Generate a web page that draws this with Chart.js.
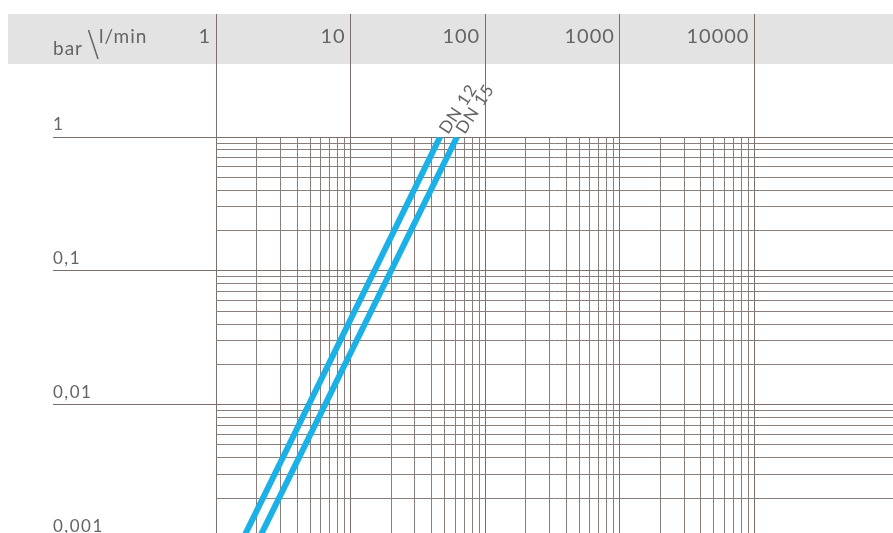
<!DOCTYPE html>
<html><head><meta charset="utf-8">
<script src="https://cdn.jsdelivr.net/npm/chart.js@4.4.1/dist/chart.umd.min.js"></script>
<style>html,body{margin:0;padding:0;background:#fff;} #wrap{width:893px;height:533px;position:relative;}</style>
</head><body><div id="wrap"><canvas id="c"></canvas></div>
<script>
// ---- data ----
const xMajorValues = [1, 10, 100, 1000, 10000];
const xTickLabels = ['1', '10', '100', '1000', '10000'];
const yMajorValues = [1, 0.1, 0.01, 0.001];
const yTickLabels = ['1', '0,1', '0,01', '0,001'];
const minorMultipliers = [2, 3, 4, 5, 6, 7, 8, 9];
const seriesNames = ['DN 12', 'DN 15'];
const dn12Flow = [46.2, 1.59];
const dn12Pressure = [1, 0.001];
const dn15Flow = [61.7, 2.09];
const dn15Pressure = [1, 0.001];
const xTitle = 'l/min';
const yTitle = 'bar';

// ---- config ----
const X_MIN = 1, X_MAX = 107000, X_GRID_MAX = 10000, Y_MIN = 0.0011, Y_MAX = 1;
const GRID = '#8a7e7a', GRID_MAJOR = '#7a6f6b', TEXT = '#646464', LINE = '#1bb0e6';

function gridValues(majors, min, max) {
  const out = [];
  majors.forEach(m => { out.push(m); minorMultipliers.forEach(k => out.push(m * k)); });
  return out.filter(v => v >= min * 0.9999 && v <= max * 1.0001).sort((a, b) => a - b);
}
const isMajor = (list, v) => list.some(m => Math.abs(m - v) / m < 1e-6);
const toPoints = (xs, ys) => xs.map((x, i) => ({x: x, y: ys[i]}));

const decor = {
  id: 'decor',
  beforeDraw(chart) {
    const c = chart.ctx;
    c.save();
    c.fillStyle = '#ffffff'; c.fillRect(0, 0, chart.width, chart.height);
    c.fillStyle = '#e3e3e3'; c.fillRect(8, 14, chart.width - 8, 50);
    c.restore();
  },
  afterDraw(chart) {
    const c = chart.ctx, xs = chart.scales.x, ys = chart.scales.y;
    c.save();
    c.fillStyle = TEXT;
    c.letterSpacing = '1px';
    c.font = '400 20px Lato';
    c.textAlign = 'right'; c.textBaseline = 'alphabetic';
    xMajorValues.forEach((v, i) => c.fillText(xTickLabels[i], xs.getPixelForValue(v) - 5, 43));
    c.font = '400 17px Lato'; c.textAlign = 'left';
    c.letterSpacing = '1.5px';
    yMajorValues.forEach((v, i) => c.fillText(yTickLabels[i], 53, ys.getPixelForValue(v) - 7));
    c.letterSpacing = '1px';
    c.font = '400 19px Lato';
    c.fillText(yTitle, 53, 55);
    c.fillText(xTitle, 99, 43);
    c.strokeStyle = TEXT; c.lineWidth = 1.5;
    c.beginPath(); c.moveTo(88.5, 30); c.lineTo(98, 59); c.stroke();
    // series labels
    c.font = '400 17px Lato';
    c.textBaseline = 'middle';
    const ang = -57 * Math.PI / 180;
    [dn12Flow, dn15Flow].forEach((flow, i) => {
      const px = xs.getPixelForValue(flow[0]), py = ys.getPixelForValue([dn12Pressure, dn15Pressure][i][0]);
      c.save();
      c.translate(px + 6 * Math.cos(ang), py + 6 * Math.sin(ang));
      c.rotate(ang);
      c.fillText(seriesNames[i], 0, 0);
      c.restore();
    });
    c.restore();
  }
};

new Chart(document.getElementById('c'), {
  type: 'line',
  data: {
    datasets: [
      {label: seriesNames[0], data: toPoints(dn12Flow, dn12Pressure)},
      {label: seriesNames[1], data: toPoints(dn15Flow, dn15Pressure)}
    ].map(d => Object.assign(d, {borderColor: LINE, borderWidth: 6, pointRadius: 0, fill: false, tension: 0, clip: 0, borderCapStyle: 'butt'}))
  },
  options: {
    responsive: true, maintainAspectRatio: false, animation: false,
    layout: {padding: 0},
    plugins: {legend: {display: false}, tooltip: {enabled: false}},
    scales: {
      x: {
        type: 'logarithmic', position: 'top', min: X_MIN, max: X_MAX,
        afterBuildTicks: s => { s.ticks = gridValues(xMajorValues.slice(0, -1), X_MIN, X_GRID_MAX).concat([X_GRID_MAX]).filter((v, i, a) => a.indexOf(v) === i).map(v => ({value: v})); },
        afterFit: s => { s.height = 137; },
        ticks: {display: false, autoSkip: false},
        border: {display: false},
        grid: {
          drawTicks: true, tickLength: 123,
          color: ctx => isMajor(xMajorValues, ctx.tick.value) ? GRID_MAJOR : GRID,
          tickColor: ctx => isMajor(xMajorValues, ctx.tick.value) ? GRID_MAJOR : 'rgba(0,0,0,0)',
          lineWidth: 1, tickWidth: 1
        }
      },
      y: {
        type: 'logarithmic', position: 'left', min: Y_MIN, max: Y_MAX,
        afterBuildTicks: s => { s.ticks = gridValues(yMajorValues, Y_MIN, Y_MAX).map(v => ({value: v})); },
        afterFit: s => { s.width = 216; },
        ticks: {display: false, autoSkip: false},
        border: {display: false},
        grid: {
          drawTicks: true, tickLength: 163,
          color: ctx => isMajor(yMajorValues, ctx.tick.value) ? GRID_MAJOR : GRID,
          tickColor: ctx => isMajor(yMajorValues, ctx.tick.value) ? GRID_MAJOR : 'rgba(0,0,0,0)',
          lineWidth: 1, tickWidth: 1
        }
      }
    }
  },
  plugins: [decor]
});
</script></body></html>
